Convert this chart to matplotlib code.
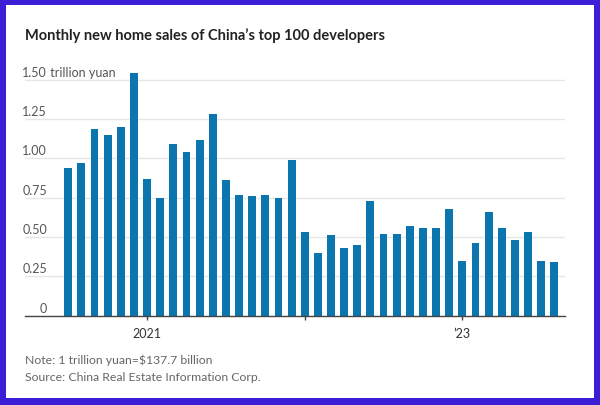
import matplotlib
matplotlib.use("Agg")
import matplotlib.pyplot as plt
import matplotlib.transforms as mtransforms
import matplotlib.patches as mpatches

# monthly sales, trillion yuan, Jul 2020 - Aug 2023
sales = [
    0.94, 0.97, 1.19, 1.15, 1.20, 1.54,              # Jul-Dec 2020
    0.87, 0.75, 1.09, 1.04, 1.12, 1.28,              # Jan-Jun 2021
    0.86, 0.77, 0.76, 0.77, 0.75, 0.99,              # Jul-Dec 2021
    0.53, 0.40, 0.51, 0.43, 0.45, 0.73,              # Jan-Jun 2022
    0.52, 0.52, 0.57, 0.56, 0.56, 0.68,              # Jul-Dec 2022
    0.35, 0.46, 0.66, 0.56, 0.48, 0.53, 0.35, 0.34,  # Jan-Aug 2023
]
tick_pos = [6, 18, 30]
tick_labels = ["2021", "", "\u201923"]
y_ticks = [0, 0.25, 0.5, 0.75, 1.0, 1.25, 1.5]
y_labels = ["0", "0.25", "0.50", "0.75", "1.00", "1.25", "1.50"]

BAR = "#0a76ad"
FONT = "Lato"

fig = plt.figure(figsize=(6, 4.06), dpi=100)
fig.patch.set_facecolor("#3c1ed6")
fig.patches.append(mpatches.Rectangle((6 / 600, 7 / 406), 588 / 600, 393 / 406,
                                      transform=fig.transFigure, facecolor="white",
                                      edgecolor="none", zorder=-5))

ax = fig.add_axes([25 / 600, 1 - 316.7 / 406, 540 / 600, (316.7 - 71.3) / 406])
ax.patch.set_alpha(0)

x = list(range(len(sales)))
ax.bar(x, sales, width=0.6, color=BAR, zorder=3)
ax.set_xlim(-3.29, 37.81)
ax.set_ylim(0, 1.56)

for s in ["top", "right", "left"]:
    ax.spines[s].set_visible(False)
ax.spines["bottom"].set_color("#444444")
ax.spines["bottom"].set_linewidth(1.0)
ax.spines["bottom"].set_zorder(4)

ax.set_yticks(y_ticks)
ax.set_yticklabels([])
ax.tick_params(axis="y", length=0)
ax.grid(axis="y", color="#e6e6e6", linewidth=1, zorder=0)

ax.set_xticks(tick_pos)
ax.set_xticklabels(tick_labels, fontsize=9, color="#333333", family=FONT)
ax.tick_params(axis="x", length=3, width=1, color="#444444", pad=5)

# y labels sit above their grid lines
trans = mtransforms.blended_transform_factory(ax.transAxes, ax.transData)
off = mtransforms.offset_copy(trans, fig=fig, y=1.5, units="points")
lx = (47 - 25) / 540
for v, lab in zip(y_ticks, y_labels):
    ax.text(lx, v, lab, transform=off, ha="right", va="bottom",
            fontsize=9, color="#555555", family=FONT)
ax.text(lx, 1.5, " trillion yuan", transform=off, ha="left", va="bottom",
        fontsize=9, color="#555555", family=FONT)

fig.text(25 / 600, 1 - 36 / 406, "Monthly new home sales of China\u2019s top 100 developers",
         fontsize=10.5, fontweight="bold", color="#222222", family=FONT, va="center")
fig.text(25 / 600, 1 - 360 / 406, "Note: 1 trillion yuan=$137.7 billion",
         fontsize=8.8, color="#666666", family=FONT, va="center")
fig.text(25 / 600, 1 - 378 / 406, "Source: China Real Estate Information Corp.",
         fontsize=8.8, color="#666666", family=FONT, va="center")

fig.savefig("out.png", dpi=100)
